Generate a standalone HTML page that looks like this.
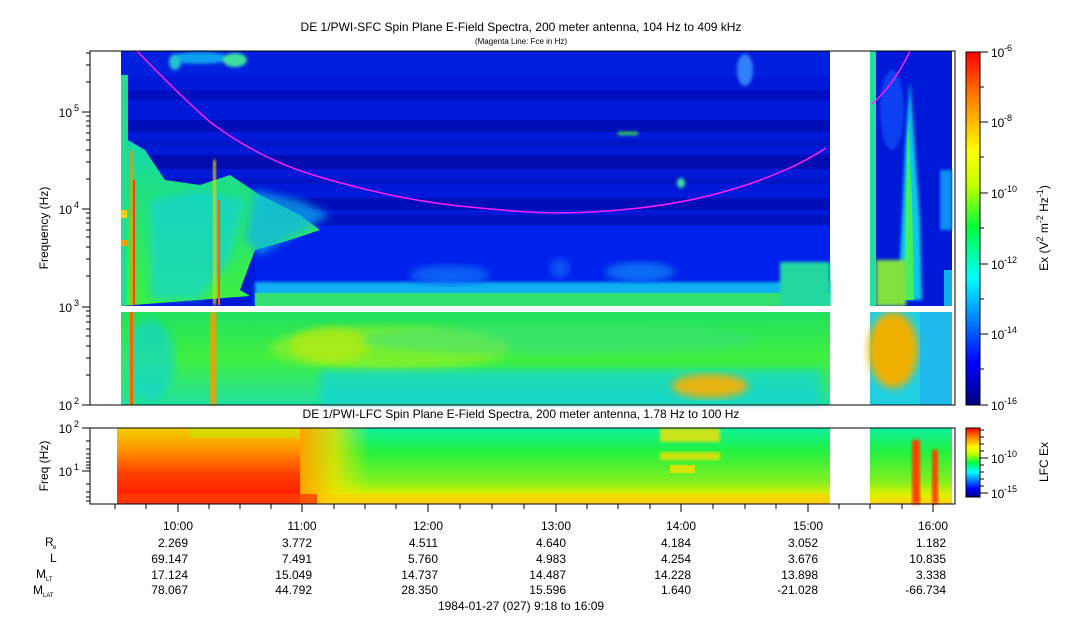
<!DOCTYPE html>
<html><head><meta charset="utf-8"><style>
html,body{margin:0;padding:0;background:#fff;}
svg{display:block;font-family:"Liberation Sans",sans-serif;}
</style></head><body>
<svg width="1083" height="620" viewBox="0 0 1083 620" xmlns="http://www.w3.org/2000/svg">
<defs>
<linearGradient id="cb" x1="0" y1="1" x2="0" y2="0">
<stop offset="0" stop-color="#00007f"/><stop offset="0.12" stop-color="#0000ff"/>
<stop offset="0.36" stop-color="#00ffff"/><stop offset="0.5" stop-color="#00ff40"/>
<stop offset="0.62" stop-color="#c0ff00"/><stop offset="0.72" stop-color="#ffff00"/>
<stop offset="0.87" stop-color="#ff8000"/><stop offset="1" stop-color="#ff0000"/>
</linearGradient>
<linearGradient id="lowband" x1="0" y1="0" x2="0" y2="1">
<stop offset="0" stop-color="#20e060"/><stop offset="0.5" stop-color="#40f040"/><stop offset="1" stop-color="#20e0a0"/>
</linearGradient>
<linearGradient id="lfc" x1="0" y1="0" x2="0" y2="1">
<stop offset="0" stop-color="#10f0a0"/><stop offset="0.3" stop-color="#20f040"/><stop offset="0.7" stop-color="#80f020"/><stop offset="0.88" stop-color="#e0f000"/><stop offset="1" stop-color="#ffd000"/>
</linearGradient>
<linearGradient id="lfcl" x1="0" y1="0" x2="0" y2="1">
<stop offset="0" stop-color="#f0d000"/><stop offset="0.3" stop-color="#ff9000"/><stop offset="0.6" stop-color="#ff4000"/><stop offset="1" stop-color="#ff1000"/>
</linearGradient>
<linearGradient id="fade" x1="0" y1="0" x2="1" y2="0">
<stop offset="0" stop-color="#ffa000" stop-opacity="1"/><stop offset="0.5" stop-color="#f0e000" stop-opacity="0.8"/><stop offset="1" stop-color="#e0f000" stop-opacity="0"/>
</linearGradient>
<linearGradient id="leftg" x1="0" y1="0" x2="0" y2="1">
<stop offset="0" stop-color="#00d0f0"/><stop offset="0.5" stop-color="#20e080"/><stop offset="1" stop-color="#40f040"/>
</linearGradient>
<filter id="bl"><feGaussianBlur stdDeviation="4"/></filter>
<filter id="bl2"><feGaussianBlur stdDeviation="1.5"/></filter>
</defs>

<text x="521" y="31" font-size="12" text-anchor="middle">DE 1/PWI-SFC  Spin Plane E-Field Spectra, 200 meter antenna, 104 Hz to 409 kHz</text>
<text x="521" y="44" font-size="8" text-anchor="middle">(Magenta Line: Fce in Hz)</text>
<text x="521" y="418" font-size="12" text-anchor="middle">DE 1/PWI-LFC  Spin Plane E-Field Spectra, 200 meter antenna, 1.78 Hz to 100 Hz</text>

<g>
<rect x="121" y="51" width="709" height="255" fill="#0018d8"/>
<rect x="121" y="51" width="709" height="25" fill="#0020e0"/>
<rect x="121" y="90" width="709" height="10" fill="#0010c0"/>
<rect x="121" y="120" width="709" height="12" fill="#000eb8"/>
<rect x="121" y="140" width="709" height="6" fill="#0014c8"/>
<rect x="121" y="155" width="709" height="14" fill="#000cb0"/>
<rect x="121" y="178" width="709" height="6" fill="#0014c8"/>
<rect x="121" y="198" width="709" height="12" fill="#000eb8"/>
<rect x="121" y="215" width="709" height="10" fill="#0012c0"/>
<rect x="255" y="226" width="575" height="70" fill="#0020ec"/>
<g filter="url(#bl2)">
<ellipse cx="200" cy="58" rx="30" ry="6" fill="#10a0f0"/>
<ellipse cx="235" cy="60" rx="12" ry="7" fill="#40e0a0"/>
<ellipse cx="175" cy="62" rx="6" ry="8" fill="#20c0d0"/>
<ellipse cx="745" cy="70" rx="8" ry="16" fill="#3080f8"/>
<rect x="618" y="132" width="20" height="3" fill="#40f040"/>
<ellipse cx="681" cy="183" rx="4" ry="5" fill="#40e0a0"/>
</g>
<polygon points="121,75 128,75 128,140 145,150 165,180 200,185 230,175 260,195 300,215 320,230 290,240 255,250 240,290 250,296 121,306" fill="url(#leftg)"/>
<polygon points="150,200 200,190 245,200 230,260 200,300 150,300" fill="#10d0e8" opacity="0.6" filter="url(#bl)"/>
<polygon points="255,190 300,200 330,215 260,255 245,240" fill="#10b0f0" opacity="0.7" filter="url(#bl)"/>
<rect x="121" y="75" width="6" height="230" fill="#20e090"/>
<rect x="121" y="210" width="6" height="8" fill="#ffd000"/>
<rect x="121" y="240" width="6" height="6" fill="#ffa000"/>
<rect x="130" y="150" width="3" height="155" fill="#ff9000" filter="url(#bl2)"/>
<rect x="133" y="180" width="2" height="125" fill="#ff4000"/>
<rect x="213" y="160" width="3" height="145" fill="#f0d000" filter="url(#bl2)"/>
<rect x="218" y="200" width="2" height="105" fill="#ff6000"/>
<rect x="255" y="282" width="575" height="24" fill="#10b0f0" filter="url(#bl2)"/>
<rect x="255" y="293" width="575" height="13" fill="#30e070"/>
<rect x="780" y="262" width="50" height="44" fill="#20d8a0" filter="url(#bl2)"/>
<ellipse cx="450" cy="275" rx="40" ry="10" fill="#1070f8" opacity="0.8" filter="url(#bl)"/>
<ellipse cx="640" cy="272" rx="35" ry="10" fill="#1080f8" opacity="0.8" filter="url(#bl)"/>
<ellipse cx="560" cy="268" rx="10" ry="10" fill="#1060f8" opacity="0.8" filter="url(#bl)"/>

<rect x="121" y="312" width="709" height="93" fill="url(#lowband)"/>
<ellipse cx="390" cy="348" rx="120" ry="22" fill="#a0f020" opacity="0.6" filter="url(#bl)"/>
<ellipse cx="330" cy="345" rx="40" ry="18" fill="#e0e800" opacity="0.45" filter="url(#bl)"/>
<rect x="320" y="370" width="500" height="35" fill="#10d0e8" opacity="0.6" filter="url(#bl)"/>
<ellipse cx="560" cy="340" rx="200" ry="15" fill="#40e080" opacity="0.5" filter="url(#bl)"/>
<ellipse cx="710" cy="386" rx="38" ry="12" fill="#ffb000" opacity="0.9" filter="url(#bl)"/>
<ellipse cx="150" cy="360" rx="25" ry="40" fill="#10d0e0" opacity="0.6" filter="url(#bl)"/>
<rect x="130" y="312" width="3" height="93" fill="#ff6000"/>
<rect x="210" y="312" width="6" height="93" fill="#f0a000" filter="url(#bl2)"/>

<rect x="870" y="51" width="82" height="255" fill="#0018d8"/>
<rect x="870" y="51" width="6" height="255" fill="#20e0a0"/>
<ellipse cx="892" cy="110" rx="12" ry="40" fill="#1040f0" filter="url(#bl2)"/>
<polygon points="910,80 915,150 920,220 922,300 898,300 902,220 905,150" fill="#10c8e8" filter="url(#bl2)"/>
<polygon points="908,120 912,200 914,300 904,300 906,200" fill="#40f060"/>
<rect x="876" y="260" width="30" height="46" fill="#80e040" filter="url(#bl2)"/>
<rect x="940" y="170" width="12" height="60" fill="#1090f0" filter="url(#bl2)"/>
<rect x="944" y="270" width="8" height="36" fill="#10b0f0"/>
<rect x="870" y="312" width="82" height="93" fill="#20d0e0"/>
<ellipse cx="893" cy="350" rx="25" ry="38" fill="#f0b000" filter="url(#bl)"/>
<rect x="920" y="312" width="32" height="93" fill="#20b0f0" opacity="0.7"/>

<rect x="90" y="306" width="865" height="6" fill="#fff"/>

<path d="M137,51 C160,75 185,100 210,122 C245,148 280,165 313,175 C380,195 430,204 480,208 C520,212 540,213 560,213 C620,212 680,205 730,190 C770,178 800,165 826,148" fill="none" stroke="#ff20ff" stroke-width="1.5"/>
<path d="M872,104 C888,90 900,72 910,51" fill="none" stroke="#ff20ff" stroke-width="1.5"/>
</g>
<rect x="90" y="51" width="865" height="354" fill="none" stroke="#000" stroke-width="1"/>

<rect x="117" y="428" width="713" height="76" fill="url(#lfc)"/>
<rect x="117" y="428" width="183" height="76" fill="url(#lfcl)"/>
<rect x="300" y="428" width="70" height="76" fill="url(#fade)"/>
<rect x="190" y="428" width="110" height="10" fill="#c0f000" opacity="0.5"/>
<rect x="117" y="494" width="713" height="10" fill="#ffc800" opacity="0.5"/>
<rect x="117" y="494" width="200" height="10" fill="#ff1000" opacity="0.6"/>
<rect x="660" y="428" width="60" height="14" fill="#f8e000" opacity="0.8" filter="url(#bl2)"/>
<rect x="660" y="452" width="60" height="8" fill="#f8e000" opacity="0.8" filter="url(#bl2)"/>
<rect x="670" y="465" width="25" height="8" fill="#f8e000" opacity="0.8"/>
<rect x="870" y="428" width="82" height="76" fill="url(#lfc)"/>
<rect x="912" y="440" width="8" height="64" fill="#ff4000" filter="url(#bl2)"/>
<rect x="932" y="450" width="6" height="54" fill="#ff4000" filter="url(#bl2)"/>
<rect x="90" y="428" width="865" height="76" fill="none" stroke="#000"/>

<g stroke="#000" stroke-width="1">
<line x1="82" y1="112" x2="90" y2="112"/><line x1="82" y1="209" x2="90" y2="209"/><line x1="82" y1="307" x2="90" y2="307"/><line x1="82" y1="405" x2="90" y2="405"/>
<line x1="86" y1="82" x2="90" y2="82"/><line x1="86" y1="65" x2="90" y2="65"/><line x1="86" y1="53" x2="90" y2="53"/>
<line x1="86" y1="179" x2="90" y2="179"/><line x1="86" y1="162" x2="90" y2="162"/><line x1="86" y1="150" x2="90" y2="150"/><line x1="86" y1="140" x2="90" y2="140"/><line x1="86" y1="133" x2="90" y2="133"/><line x1="86" y1="126" x2="90" y2="126"/><line x1="86" y1="121" x2="90" y2="121"/><line x1="86" y1="116" x2="90" y2="116"/>
<line x1="86" y1="276" x2="90" y2="276"/><line x1="86" y1="259" x2="90" y2="259"/><line x1="86" y1="247" x2="90" y2="247"/><line x1="86" y1="237" x2="90" y2="237"/><line x1="86" y1="230" x2="90" y2="230"/><line x1="86" y1="223" x2="90" y2="223"/><line x1="86" y1="218" x2="90" y2="218"/><line x1="86" y1="213" x2="90" y2="213"/>
<line x1="86" y1="375" x2="90" y2="375"/><line x1="86" y1="358" x2="90" y2="358"/><line x1="86" y1="346" x2="90" y2="346"/><line x1="86" y1="336" x2="90" y2="336"/><line x1="86" y1="329" x2="90" y2="329"/><line x1="86" y1="322" x2="90" y2="322"/><line x1="86" y1="316" x2="90" y2="316"/><line x1="86" y1="311" x2="90" y2="311"/>
<line x1="82" y1="428" x2="90" y2="428"/><line x1="82" y1="471" x2="90" y2="471"/>
<line x1="86" y1="484" x2="90" y2="484"/><line x1="86" y1="492" x2="90" y2="492"/><line x1="86" y1="497" x2="90" y2="497"/><line x1="86" y1="501" x2="90" y2="501"/>
<line x1="86" y1="441" x2="90" y2="441"/><line x1="86" y1="449" x2="90" y2="449"/><line x1="86" y1="454" x2="90" y2="454"/><line x1="86" y1="458" x2="90" y2="458"/><line x1="86" y1="462" x2="90" y2="462"/><line x1="86" y1="465" x2="90" y2="465"/><line x1="86" y1="468" x2="90" y2="468"/>
</g>
<g font-size="12" text-anchor="end">
<text x="72" y="117">10</text><text x="79" y="111" font-size="9">5</text>
<text x="72" y="214">10</text><text x="79" y="208" font-size="9">4</text>
<text x="72" y="312">10</text><text x="79" y="306" font-size="9">3</text>
<text x="72" y="410">10</text><text x="79" y="404" font-size="9">2</text>
<text x="72" y="433">10</text><text x="79" y="427" font-size="9">2</text>
<text x="72" y="476">10</text><text x="79" y="470" font-size="9">1</text>
</g>
<text transform="translate(48,228) rotate(-90)" font-size="12" text-anchor="middle">Frequency (Hz)</text>
<text transform="translate(48,466) rotate(-90)" font-size="12" text-anchor="middle">Freq (Hz)</text>

<rect x="966" y="52" width="14" height="353" fill="url(#cb)" stroke="#000"/>
<rect x="966" y="428" width="14" height="69" fill="url(#cb)" stroke="#000"/>
<g stroke="#000">
<line x1="980" y1="52" x2="988" y2="52"/><line x1="980" y1="122" x2="988" y2="122"/><line x1="980" y1="193" x2="988" y2="193"/><line x1="980" y1="264" x2="988" y2="264"/><line x1="980" y1="334" x2="988" y2="334"/><line x1="980" y1="405" x2="988" y2="405"/>
<line x1="980" y1="87" x2="984" y2="87"/><line x1="980" y1="157" x2="984" y2="157"/><line x1="980" y1="228" x2="984" y2="228"/><line x1="980" y1="299" x2="984" y2="299"/><line x1="980" y1="369" x2="984" y2="369"/>
<line x1="980" y1="458" x2="988" y2="458"/><line x1="980" y1="493" x2="988" y2="493"/>
<line x1="980" y1="430" x2="984" y2="430"/><line x1="980" y1="437" x2="984" y2="437"/><line x1="980" y1="444" x2="984" y2="444"/><line x1="980" y1="451" x2="984" y2="451"/><line x1="980" y1="465" x2="984" y2="465"/><line x1="980" y1="472" x2="984" y2="472"/><line x1="980" y1="479" x2="984" y2="479"/><line x1="980" y1="486" x2="984" y2="486"/>
</g>
<g font-size="12">
<text x="991" y="57">10</text><text x="1004" y="51" font-size="9">-6</text>
<text x="991" y="127">10</text><text x="1004" y="121" font-size="9">-8</text>
<text x="991" y="198">10</text><text x="1004" y="192" font-size="9">-10</text>
<text x="991" y="269">10</text><text x="1004" y="263" font-size="9">-12</text>
<text x="991" y="339">10</text><text x="1004" y="333" font-size="9">-14</text>
<text x="991" y="410">10</text><text x="1004" y="404" font-size="9">-16</text>
<text x="991" y="463">10</text><text x="1004" y="457" font-size="9">-10</text>
<text x="991" y="498">10</text><text x="1004" y="492" font-size="9">-15</text>
</g>
<text transform="translate(1048,228) rotate(-90)" font-size="12" text-anchor="middle">Ex (V<tspan font-size="9" dy="-5">2</tspan><tspan dy="5"> m</tspan><tspan font-size="9" dy="-5">-2</tspan><tspan dy="5"> Hz</tspan><tspan font-size="9" dy="-5">-1</tspan><tspan dy="5">)</tspan></text>
<text transform="translate(1048,462) rotate(-90)" font-size="12" text-anchor="middle">LFC Ex</text>

<g stroke="#000">
<line x1="115" y1="504" x2="115" y2="509"/><line x1="146" y1="504" x2="146" y2="509"/><line x1="178" y1="504" x2="178" y2="512"/><line x1="209" y1="504" x2="209" y2="509"/><line x1="240" y1="504" x2="240" y2="509"/><line x1="271" y1="504" x2="271" y2="509"/>
<line x1="302" y1="504" x2="302" y2="512"/><line x1="334" y1="504" x2="334" y2="509"/><line x1="365" y1="504" x2="365" y2="509"/><line x1="396" y1="504" x2="396" y2="509"/>
<line x1="428" y1="504" x2="428" y2="512"/><line x1="460" y1="504" x2="460" y2="509"/><line x1="492" y1="504" x2="492" y2="509"/><line x1="524" y1="504" x2="524" y2="509"/>
<line x1="556" y1="504" x2="556" y2="512"/><line x1="587" y1="504" x2="587" y2="509"/><line x1="618" y1="504" x2="618" y2="509"/><line x1="650" y1="504" x2="650" y2="509"/>
<line x1="681" y1="504" x2="681" y2="512"/><line x1="713" y1="504" x2="713" y2="509"/><line x1="745" y1="504" x2="745" y2="509"/><line x1="776" y1="504" x2="776" y2="509"/>
<line x1="808" y1="504" x2="808" y2="512"/><line x1="839" y1="504" x2="839" y2="509"/><line x1="870" y1="504" x2="870" y2="509"/><line x1="902" y1="504" x2="902" y2="509"/>
<line x1="933" y1="504" x2="933" y2="512"/>
</g>
<g font-size="12" text-anchor="middle">
<text x="178" y="530">10:00</text><text x="302" y="530">11:00</text><text x="428" y="530">12:00</text><text x="556" y="530">13:00</text><text x="681" y="530">14:00</text><text x="808" y="530">15:00</text><text x="933" y="530">16:00</text>
</g>
<g font-size="12" text-anchor="end">
<text x="188" y="547">2.269</text><text x="312" y="547">3.772</text><text x="438" y="547">4.511</text><text x="566" y="547">4.640</text><text x="691" y="547">4.184</text><text x="818" y="547">3.052</text><text x="946" y="547">1.182</text>
<text x="188" y="563">69.147</text><text x="312" y="563">7.491</text><text x="438" y="563">5.760</text><text x="566" y="563">4.983</text><text x="691" y="563">4.254</text><text x="818" y="563">3.676</text><text x="946" y="563">10.835</text>
<text x="188" y="579">17.124</text><text x="312" y="579">15.049</text><text x="438" y="579">14.737</text><text x="566" y="579">14.487</text><text x="691" y="579">14.228</text><text x="818" y="579">13.898</text><text x="946" y="579">3.338</text>
<text x="188" y="594">78.067</text><text x="312" y="594">44.792</text><text x="438" y="594">28.350</text><text x="566" y="594">15.596</text><text x="691" y="594">1.640</text><text x="818" y="594">-21.028</text><text x="946" y="594">-66.734</text>
</g>
<g font-size="12">
<text x="45" y="546">R</text><text x="53" y="549" font-size="6">e</text>
<text x="50" y="562">L</text>
<text x="36" y="578">M</text><text x="46" y="581" font-size="6">LT</text>
<text x="33" y="594">M</text><text x="43" y="597" font-size="6">LAT</text>
</g>
<text x="521" y="610" font-size="12" text-anchor="middle">1984-01-27 (027) 9:18 to 16:09</text>
</svg>
</body></html>
